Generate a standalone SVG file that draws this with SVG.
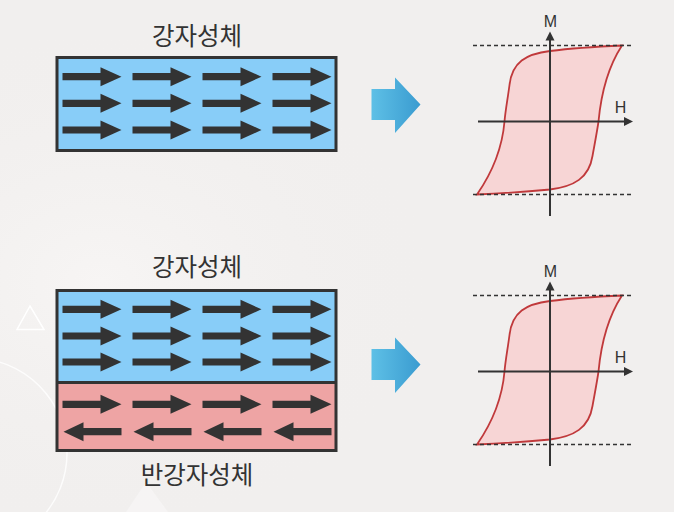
<svg xmlns="http://www.w3.org/2000/svg" xmlns:xlink="http://www.w3.org/1999/xlink" width="674" height="512" viewBox="0 0 674 512">
<style>
.bg{fill:#f1efee}
.lbl{font-family:"Noto Sans CJK KR","Noto Sans",sans-serif;font-size:24.5px;fill:#333;text-anchor:middle;font-weight:400}
.ax{font-family:"Liberation Sans",Arial,sans-serif;font-size:16px;fill:#333;text-anchor:middle}
.box{stroke:#333;stroke-width:3}
.blue{fill:#88cdf8}
.pink{fill:#eea4a4}
.mag{fill:#333}
.axis{stroke:#333;stroke-width:2;fill:none}
.dash{stroke:#333;stroke-width:1.5;stroke-dasharray:4 3;fill:none}
.loop{fill:#f7d5d5;stroke:#c0393b;stroke-width:1.8}
.deco{fill:none;stroke:#ffffff;stroke-width:1.5}
</style>
<defs>
<radialGradient id="glow" cx="0.15" cy="0.55" r="0.5">
<stop offset="0" stop-color="#f7f5f4"/>
<stop offset="1" stop-color="#f1efee" stop-opacity="0"/>
</radialGradient>
<linearGradient id="bluearrow" x1="0" y1="0" x2="1" y2="0">
<stop offset="0" stop-color="#5ec0e6"/>
<stop offset="1" stop-color="#3a9bd0"/>
</linearGradient>
<path id="ar" d="M0,-3.6 H38 V-9.5 L59,0 L38,9.5 V3.6 H0 Z"/>
<path id="al" d="M59,-3.6 H21 V-9.5 L1,0 L21,9.5 V3.6 H59 Z"/>
<path id="loopPath" d="M622,45.5 C600,46.5 570,48.5 550,51 C526,54 512,62 509.5,85 C507.5,100 505.5,110 504.5,121.5 C502.5,145 494,170 477,194.5 C499,193.5 529,191.5 550,189.5 C574,186.5 589,178 592.5,156 C595,142 597,132 598.5,121.5 C600.5,100 606,70 622,45.5 Z"/>
<path id="bigArrow" d="M371.5,89 H395 V77.5 L420.5,104.5 L395,133 V120 H371.5 Z"/>
</defs>

<g id="background">
<rect class="bg" x="0" y="0" width="674" height="512"/>
<rect x="0" y="0" width="674" height="512" fill="url(#glow)"/>
<polygon class="deco" points="30,306 17,329.5 44,329.5"/>
<circle class="deco" cx="-28" cy="453" r="95" stroke-opacity="0.8"/>
<polygon points="146,482 126,512 168,512" fill="#ffffff" fill-opacity="0.35"/>
</g>

<g id="ferro-top">
<text class="lbl" x="197" y="45">강자성체</text>
<rect class="box blue" x="57" y="57.5" width="279" height="93"/>
<g class="mag">
<use href="#ar" x="62.5" y="76.7"/><use href="#ar" x="132.5" y="76.7"/><use href="#ar" x="202.5" y="76.7"/><use href="#ar" x="272.5" y="76.7"/>
<use href="#ar" x="62.5" y="103.3"/><use href="#ar" x="132.5" y="103.3"/><use href="#ar" x="202.5" y="103.3"/><use href="#ar" x="272.5" y="103.3"/>
<use href="#ar" x="62.5" y="130"/><use href="#ar" x="132.5" y="130"/><use href="#ar" x="202.5" y="130"/><use href="#ar" x="272.5" y="130"/>
</g>
</g>

<g id="ferro-afm">
<text class="lbl" x="197" y="276">강자성체</text>
<rect class="blue" x="57" y="290.5" width="279" height="92"/>
<rect class="pink" x="57" y="382.5" width="279" height="68"/>
<rect class="box" fill="none" x="57" y="290.5" width="279" height="160"/>
<line class="box" x1="57" y1="382.5" x2="336" y2="382.5"/>
<g class="mag">
<use href="#ar" x="62.5" y="309.3"/><use href="#ar" x="132.5" y="309.3"/><use href="#ar" x="202.5" y="309.3"/><use href="#ar" x="272.5" y="309.3"/>
<use href="#ar" x="62.5" y="336"/><use href="#ar" x="132.5" y="336"/><use href="#ar" x="202.5" y="336"/><use href="#ar" x="272.5" y="336"/>
<use href="#ar" x="62.5" y="362"/><use href="#ar" x="132.5" y="362"/><use href="#ar" x="202.5" y="362"/><use href="#ar" x="272.5" y="362"/>
<use href="#ar" x="62.5" y="404.3"/><use href="#ar" x="132.5" y="404.3"/><use href="#ar" x="202.5" y="404.3"/><use href="#ar" x="272.5" y="404.3"/>
<use href="#al" x="62.5" y="431.7"/><use href="#al" x="132.5" y="431.7"/><use href="#al" x="202.5" y="431.7"/><use href="#al" x="272.5" y="431.7"/>
</g>
<text class="lbl" x="197" y="484">반강자성체</text>
</g>

<g id="connectors">
<use href="#bigArrow" fill="url(#bluearrow)"/>
<use href="#bigArrow" fill="url(#bluearrow)" y="260"/>
</g>

<g id="loop-top">
<use href="#loopPath" class="loop"/>
<line class="dash" x1="473" y1="45.5" x2="633" y2="45.5"/>
<line class="dash" x1="473" y1="194.5" x2="633" y2="194.5"/>
<line class="axis" x1="478" y1="121.5" x2="627" y2="121.5"/>
<polygon fill="#333" points="633,121.5 624,117 624,126"/>
<line class="axis" x1="550" y1="216" x2="550" y2="38"/>
<polygon fill="#333" points="550,31.5 545.5,40.5 554.5,40.5"/>
<text class="ax" x="550.5" y="26.5">M</text>
<text class="ax" x="620.5" y="113">H</text>
</g>

<g id="loop-bottom" transform="translate(0,250)">
<use href="#loopPath" class="loop"/>
<line class="dash" x1="473" y1="45.5" x2="633" y2="45.5"/>
<line class="dash" x1="473" y1="194.5" x2="633" y2="194.5"/>
<line class="axis" x1="478" y1="121.5" x2="627" y2="121.5"/>
<polygon fill="#333" points="633,121.5 624,117 624,126"/>
<line class="axis" x1="550" y1="216" x2="550" y2="38"/>
<polygon fill="#333" points="550,31.5 545.5,40.5 554.5,40.5"/>
<text class="ax" x="550.5" y="26.5">M</text>
<text class="ax" x="620.5" y="113">H</text>
</g>
</svg>
